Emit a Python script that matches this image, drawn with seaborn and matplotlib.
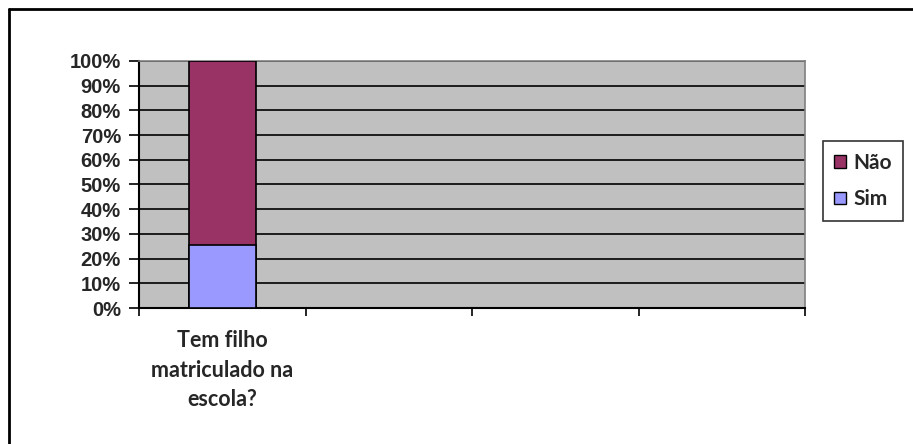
import matplotlib
matplotlib.use("Agg")
import matplotlib.pyplot as plt
import seaborn as sns
import pandas as pd
from matplotlib.lines import Line2D
from matplotlib.patches import Patch

categories = ["Tem filho\nmatriculado na\nescola?", " ", "  ", "   "]
series_names = ["Sim", "Não"]
sim_values = [25.5]
nao_values = [74.5]
ytick_labels = ["0%", "10%", "20%", "30%", "40%", "50%", "60%", "70%", "80%", "90%", "100%"]

colors = {"Sim": "#9999FF", "Não": "#993366"}

sns.set_style("white")
plt.rcParams['font.family'] = ['Lato', 'DejaVu Sans']

fig = plt.figure(figsize=(9.13, 4.44), dpi=100)
W, H = 913, 444
ax = fig.add_axes([139 / W, 1 - 308 / H, (805 - 139) / W, (308 - 61) / H])
ax.set_facecolor("#C0C0C0")

df = pd.DataFrame({
    "cat": categories[:len(sim_values)],
    "Sim": sim_values,
    "Não": nao_values,
})
df["total"] = df["Sim"] + df["Não"]

# stacked: draw total (Não on top) then Sim
sns.barplot(data=df, x="cat", y="total", order=categories, color=colors["Não"],
            width=0.4, edgecolor="black", linewidth=1.2, ax=ax, zorder=3, saturation=1)
sns.barplot(data=df, x="cat", y="Sim", order=categories, color=colors["Sim"],
            width=0.4, edgecolor="black", linewidth=1.2, ax=ax, zorder=4, saturation=1)

ax.set_xlim(-0.5, len(categories) - 0.5)
ax.set_ylim(0, 100)
ax.set_xlabel("")
ax.set_ylabel("")

yt = list(range(0, 101, 10))
ax.set_yticks(yt)
ax.set_yticklabels(ytick_labels, fontfamily="Liberation Sans", fontweight="bold", fontsize=14.5)
for y in yt:
    ax.axhline(y, color="black", linewidth=1.2, zorder=2)

ax.set_xticks([i - 0.5 for i in range(len(categories) + 1)])
ax.set_xticklabels([])
ax.set_xticks(range(len(categories)), minor=True)
ax.set_xticklabels(categories, minor=True, fontweight="bold", fontsize=15.5, linespacing=1.5)
ax.tick_params(axis="x", which="major", direction="out", length=6, width=1.2, color="black", bottom=True)
ax.tick_params(axis="x", which="minor", length=0, pad=16)
ax.tick_params(axis="y", direction="out", length=7, width=1.2, color="black", left=True, pad=6)

for side in ["top", "right"]:
    ax.spines[side].set_visible(True)
    ax.spines[side].set_color("#808080")
    ax.spines[side].set_linewidth(1.2)
for side in ["left", "bottom"]:
    ax.spines[side].set_visible(True)
    ax.spines[side].set_color("black")
    ax.spines[side].set_linewidth(1.5)

handles = [Patch(facecolor=colors["Não"], edgecolor="black", label="Não"),
           Patch(facecolor=colors["Sim"], edgecolor="black", label="Sim")]
leg = fig.legend(handles=handles, loc="center", bbox_to_anchor=(863 / W, 1 - 181 / H),
                 frameon=True, fancybox=False, edgecolor="black",
                 prop={"family": "Lato", "weight": "bold", "size": 15},
                 handlelength=0.55, handleheight=0.55, handletextpad=0.35,
                 labelspacing=0.8, borderpad=0.55)
leg.get_frame().set_linewidth(1.2)

# outer chart border (top and left visible)
fig.add_artist(Line2D([9 / W, 9 / W], [0, 1 - 9 / H], color="black", linewidth=2, transform=fig.transFigure))
fig.add_artist(Line2D([9 / W, 1], [1 - 9 / H, 1 - 9 / H], color="black", linewidth=2, transform=fig.transFigure))

fig.savefig("out.png", dpi=100)
